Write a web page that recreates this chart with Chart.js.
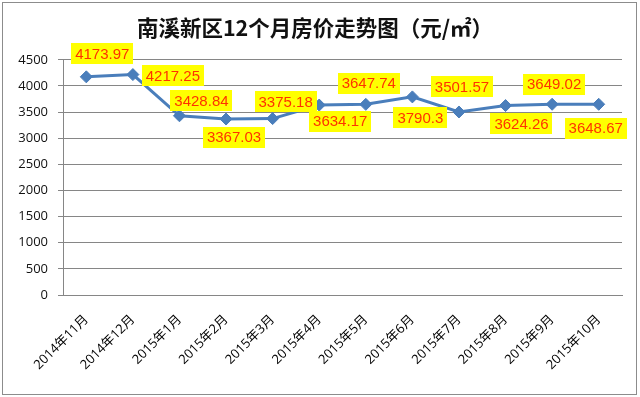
<!DOCTYPE html>
<html>
<head>
<meta charset="utf-8">
<script src="https://cdn.jsdelivr.net/npm/chart.js@4/dist/chart.umd.min.js"></script>
<style>
  html, body { margin: 0; padding: 0; background: #fff; }
  #wrap { width: 640px; height: 397px; }
</style>
</head>
<body>
<div id="wrap"><canvas id="myChart" width="640" height="397"></canvas></div>
<script>

var months = ['2014年11月', '2014年12月', '2015年1月', '2015年2月', '2015年3月', '2015年4月',
	'2015年5月', '2015年6月', '2015年7月', '2015年8月', '2015年9月', '2015年10月'];
var prices = [4173.97, 4217.25, 3428.84, 3367.03, 3375.18, 3634.17,
	3647.74, 3790.3, 3501.57, 3624.26, 3649.02, 3648.67];
var yMin = 0, yMax = 4500, yStep = 500;

// where each value box sits relative to its point (px)
var labelShift = [[16, -23], [40, 1], [22, -15], [8, 18], [13, -17], [21, 16],
	[3, -21], [8, 21], [3, -25], [16, 18], [2, -20], [-3, 24]];

const frame = {
	id: 'frame',
	beforeDraw(chart){
		const c = chart.ctx;
		c.save();
		c.fillStyle = '#fff';
		c.fillRect(0, 0, chart.width, chart.height);
		c.strokeStyle = '#8c8c8c';
		c.lineWidth = 1;
		c.strokeRect(2.5, 2.5, 634, 392);
		c.restore();
	}
};

const valueBoxes = {
	id: 'valueBoxes',
	afterDatasetsDraw(chart){
		const c = chart.ctx;
		const pts = chart.getDatasetMeta(0).data;
		c.save();
		c.font = '15px "Liberation Sans", "Noto Sans", sans-serif';
		c.textAlign = 'center';
		c.textBaseline = 'middle';
		pts.forEach(function(p, i){
			const txt = String(prices[i]);
			const w = c.measureText(txt).width + 8;
			const h = 21;
			const cx = p.x + labelShift[i][0];
			const cy = p.y + labelShift[i][1];
			c.fillStyle = '#ffff00';
			c.fillRect(Math.round(cx - w / 2), Math.round(cy - h / 2), Math.round(w), h);
			c.fillStyle = '#ff3300';
			c.fillText(txt, cx, cy + 1);
		});
		c.restore();
	}
};

const ctx = document.getElementById('myChart').getContext('2d');
const chart = new Chart(ctx, {
	type: 'line',
	data: {
		labels: months,
		datasets: [{
			data: prices,
			borderColor: '#4a7ebb',
			backgroundColor: '#4a7ebb',
			borderWidth: 3,
			pointStyle: 'rectRot',
			pointRadius: 6,
			pointBorderWidth: 1,
			tension: 0
		}]
	},
	options: {
		responsive: false,
		animation: false,
		layout: { padding: { left: 8, right: 18, top: 0, bottom: 0 } },
		plugins: {
			legend: { display: false },
			tooltip: { enabled: false },
			title: {
				display: true,
				text: '南溪新区12个月房价走势图（元/㎡）',
				color: '#111',
				font: { family: '"Noto Sans CJK SC", sans-serif', size: 21.5, weight: 'bold', lineHeight: 1.2 },
				padding: { top: 15, bottom: 19 }
			}
		},
		scales: {
			x: {
				offset: true,
				grid: { display: false, drawTicks: false },
				border: { color: '#868686' },
				ticks: {
					minRotation: 45,
					maxRotation: 45,
					autoSkip: false,
					padding: 17,
					color: '#000',
					font: { family: '"Open Sans", "Noto Sans CJK SC", sans-serif', size: 13 }
				},
				afterFit(scale){ scale.height = 102; }
			},
			y: {
				min: yMin,
				max: yMax,
				grid: { color: '#868686', tickLength: 5, tickColor: '#868686' },
				border: { color: '#868686' },
				ticks: {
					stepSize: yStep,
					padding: 10,
					color: '#111',
					font: { family: '"Open Sans", sans-serif', size: 13 },
					callback(v){ return String(v); }
				},
				afterFit(scale){ scale.width = 55; }
			}
		}
	},
	plugins: [frame, valueBoxes]
});

</script>
</body>
</html>
